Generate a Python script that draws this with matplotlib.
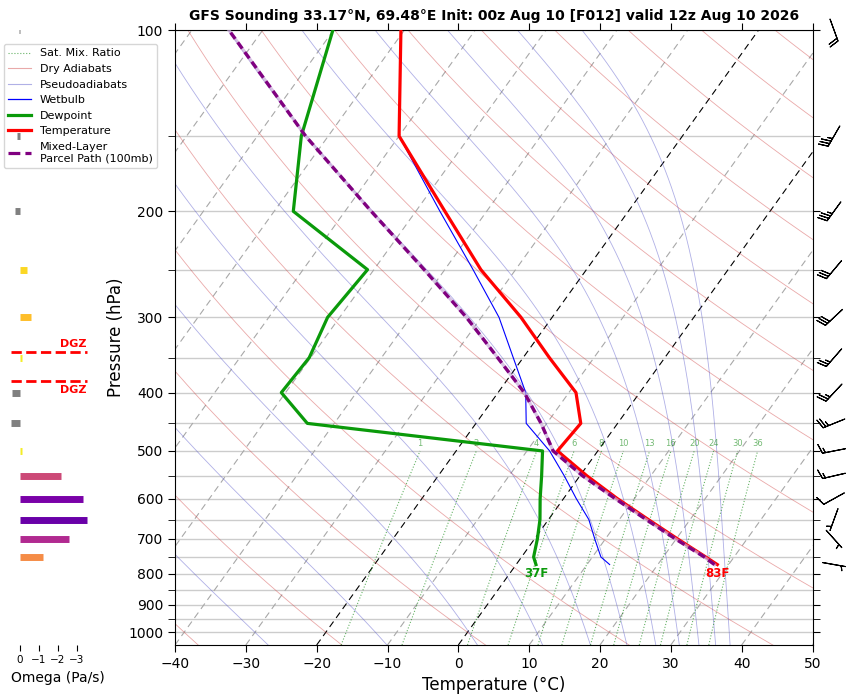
import numpy as np
import matplotlib.pyplot as plt
from matplotlib.colors import Normalize
from matplotlib.lines import Line2D

# sounding levels (hPa) and profiles (degC)
pres = np.array([772, 750, 700, 650, 600, 550, 500, 450, 400, 350, 300, 250, 200, 150, 100])
temp = np.array([28.4, 26.0, 20.2, 14.1, 7.6, 1.0, -5.7, -5.2, -9.0, -16.3, -24.4, -34.9, -45.9, -60.0, -70.5])
dewp = np.array([2.8, 1.7, 0.4, -1.2, -3.3, -5.4, -7.8, -43.8, -50.6, -50.2, -51.7, -50.9, -67.3, -73.8, -80.1])
wetb = np.array([13.2, 11.2, 8.5, 5.7, 1.8, -2.2, -6.8, -12.9, -16.1, -21.4, -27.5, -36.0, -46.6, -60.0, -70.5])
parcel = np.array([28.0, 25.8, 19.9, 13.8, 7.3, 0.4, -6.3, -10.8, -16.3, -23.6, -32.1, -42.9, -56.3, -73.2, -94.8])

# winds (direction deg, speed kt)
wind_p = np.array([772, 700, 650, 600, 550, 500, 450, 400, 350, 300, 250, 200, 150, 100])
wind_dir = np.array([100, 138, 200, 241, 257, 259, 248, 223, 221, 227, 220, 216, 210, 160])
wind_spd = np.array([5, 5, 5, 10, 15, 15, 25, 25, 25, 30, 30, 35, 35, 20])

# omega (Pa/s)
omega_p = np.array([100, 150, 200, 250, 300, 350, 400, 450, 500, 550, 600, 650, 700, 750])
omega = np.array([0.04, 0.15, 0.25, -0.35, -0.6, -0.12, 0.42, 0.5, -0.12, -2.15, -3.3, -3.5, -2.6, -1.2])

dgz_p = [342, 382]
mix_ratios = [1, 2, 4, 6, 8, 10, 13, 16, 20, 24, 30, 36]

title = "GFS Sounding 33.17°N, 69.48°E Init: 00z Aug 10 [F012] valid 12z Aug 10 2026"

P_BOT, P_TOP = 1050, 100
K = 61.1  # skew, degC per decade of pressure


def skx(t, p):
    return np.asarray(t, dtype=float) + K * np.log10(P_BOT / np.asarray(p, dtype=float))


def theta_e_sat(tk, p):
    tc = tk - 273.15
    es = 6.112 * np.exp(17.67 * tc / (tc + 243.5))
    r = 0.622 * es / np.maximum(p - es, 1e-3)
    return tk * (1000.0 / p) ** (0.2854 * (1 - 0.28 * r)) * np.exp((3376.0 / tk - 2.54) * r * (1 + 0.81 * r))


def pseudo_line(thetae, plevs):
    lg = np.log(0.3 * plevs / 6.112)
    lo = np.full_like(plevs, 150.0)
    hi = 273.15 + 243.5 * lg / (17.67 - lg)
    for _ in range(60):
        mid = 0.5 * (lo + hi)
        big = theta_e_sat(mid, plevs) > thetae
        hi = np.where(big, mid, hi)
        lo = np.where(big, lo, mid)
    return 0.5 * (lo + hi) - 273.15


W, H = 855, 696
fig = plt.figure(figsize=(W / 100, H / 100), dpi=100)
ax = fig.add_axes([175 / W, 1 - 645 / H, 637.5 / W, 615 / H])
ax.set_yscale('log')

plevs = np.geomspace(P_BOT, P_TOP, 150)

# isotherms
for t0 in range(-130, 51, 10):
    c = 'black' if t0 in (0, -20) else '#a8a8a8'
    ax.plot(skx(np.full(2, t0), [P_BOT, P_TOP]), [P_BOT, P_TOP], color=c,
            lw=0.8, ls=(0, (6, 4)), zorder=1)

# dry adiabats
for t0 in range(-40, 251, 20):
    t = (t0 + 273.15) * (plevs / 1000.0) ** 0.2857 - 273.15
    ax.plot(skx(t, plevs), plevs, color='#d04040', alpha=0.45, lw=0.6, zorder=1)

# pseudoadiabats
for te in range(244, 445, 20):
    t = pseudo_line(te, plevs)
    ax.plot(skx(t, plevs), plevs, color='#5050c8', alpha=0.45, lw=0.6, zorder=1)

# saturation mixing ratio lines
pm = np.geomspace(P_BOT, 500, 40)
for w in mix_ratios:
    e = (w / 1000.0) * pm / (0.622 + w / 1000.0)
    lg = np.log(e / 6.112)
    td = 243.5 * lg / (17.67 - lg)
    ax.plot(skx(td, pm), pm, color='green', alpha=0.6, lw=0.8, ls=':', zorder=1)
    ax.text(skx(td[-1], 500), 495, str(w), color='green', alpha=0.55, fontsize=6,
            ha='center', va='bottom', zorder=2)

# profiles
ax.plot(skx(wetb, pres), pres, color='blue', lw=0.8, zorder=4)
ax.plot(skx(dewp, pres), pres, color='#0a9a0a', lw=2.3, zorder=5)
ax.plot(skx(temp, pres), pres, color='red', lw=2.3, zorder=5)
ax.plot(skx(parcel, pres), pres, color='#c8a8d8', lw=2.3, alpha=0.7, zorder=6)
ax.plot(skx(parcel, pres), pres, color='purple', lw=2.4, ls=(0, (2.3, 1.3)), zorder=6)

ax.annotate(f"{temp[0] * 9 / 5 + 32:.0f}F", (skx(temp[0], pres[0]), pres[0]),
            xytext=(0, -2), textcoords='offset points', ha='center', va='top',
            color='red', fontsize=8.5, fontweight='bold', zorder=7)
ax.annotate(f"{dewp[0] * 9 / 5 + 32:.0f}F", (skx(dewp[0], pres[0]), pres[0]),
            xytext=(0, -2), textcoords='offset points', ha='center', va='top',
            color='#0a9a0a', fontsize=8.5, fontweight='bold', zorder=7)

ax.set_xlim(-40, 50)
ax.set_ylim(P_BOT, P_TOP)
ax.set_yticks(np.arange(100, 1001, 100))
ax.set_yticklabels([str(p) for p in range(100, 1001, 100)])
ax.set_yticks(np.arange(150, 1001, 100), minor=True)
ax.yaxis.set_minor_formatter(plt.NullFormatter())
ax.set_xticks(np.arange(-40, 51, 10))
ax.tick_params(which='both', direction='out', length=5, top=True, right=True, labelsize=10)
ax.yaxis.grid(True, which='both', color='#cccccc', lw=1)
ax.set_axisbelow(True)
ax.set_xlabel('Temperature (°C)', fontsize=12)
ax.set_ylabel('Pressure (hPa)', fontsize=12)
ax.yaxis.set_label_coords(-0.079, 0.5)
ax.set_title(title, fontsize=10, fontweight='bold', pad=7)

handles = [
    Line2D([], [], color='green', alpha=0.6, lw=0.8, ls=':'),
    Line2D([], [], color='#d04040', alpha=0.45, lw=0.8),
    Line2D([], [], color='#5050c8', alpha=0.45, lw=0.8),
    Line2D([], [], color='blue', lw=0.9),
    Line2D([], [], color='#0a9a0a', lw=2.3),
    Line2D([], [], color='red', lw=2.3),
    Line2D([], [], color='purple', lw=2.3, ls='--'),
]
labels = ['Sat. Mix. Ratio', 'Dry Adiabats', 'Pseudoadiabats', 'Wetbulb', 'Dewpoint',
          'Temperature', 'Mixed-Layer\nParcel Path (100mb)']
ax.legend(handles, labels, loc='upper left', bbox_to_anchor=(4 / W, 1 - 44 / H),
          bbox_transform=fig.transFigure, fontsize=8, borderaxespad=0)

# omega panel
axw = fig.add_axes([10.5 / W, 1 - 645 / H, 95 / W, 615 / H])
axw.patch.set_visible(False)
axw.set_yscale('log')
axw.set_ylim(P_BOT, P_TOP)
axw.set_xlim(0.5, -4.5)
norm = Normalize(vmin=-4.35, vmax=0)
cols = ['gray' if w >= 0 else plt.cm.plasma(norm(w)) for w in omega]
axw.hlines(omega_p, 0, omega, colors=cols, lw=5)
axw.hlines(dgz_p, 0.5, -3.5, colors='red', linestyles='--', lw=2)
axw.text(-3.5, dgz_p[0] - 4, 'DGZ', ha='right', va='bottom', color='red', fontsize=8, fontweight='bold')
axw.text(-3.5, dgz_p[1] + 7, 'DGZ', ha='right', va='top', color='red', fontsize=8, fontweight='bold')
for s in axw.spines.values():
    s.set_visible(False)
axw.yaxis.set_major_locator(plt.NullLocator())
axw.yaxis.set_minor_locator(plt.NullLocator())
axw.set_xticks([0, -1, -2, -3])
axw.tick_params(axis='x', length=4, labelsize=7.5)
axw.set_xlabel('Omega (Pa/s)', fontsize=10)

# wind barbs
axb = fig.add_axes([813 / W, 1 - 645 / H, 42 / W, 615 / H])
axb.set_yscale('log')
axb.set_ylim(P_BOT, P_TOP)
axb.set_xlim(0, 1)
axb.axis('off')
rad = np.deg2rad(wind_dir)
u = -wind_spd * np.sin(rad)
v = -wind_spd * np.cos(rad)
axb.barbs(np.full(len(wind_p), 0.5), wind_p, u, v, length=5.8, pivot='middle',
          lw=0.8, clip_on=False)

fig.savefig('out.png', dpi=100)
